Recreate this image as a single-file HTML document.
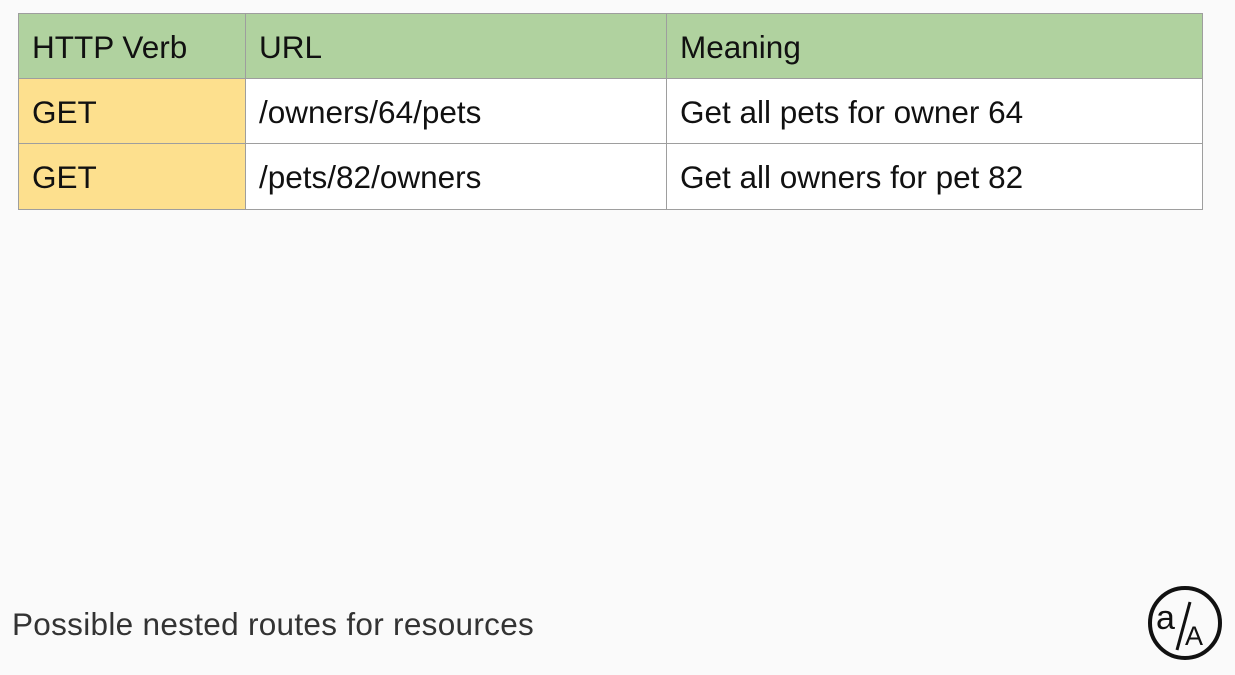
<!DOCTYPE html>
<html><head><style>
body{margin:0;width:1235px;height:675px;background:#fafafa;position:relative;overflow:hidden;font-family:"Liberation Sans",Arial,sans-serif}
table{position:absolute;left:18px;top:13px;border-collapse:collapse}
td{border:1.5px solid #9e9e9e;height:62px;padding:2px 0 0 13px;font-size:31.5px;color:#111;box-sizing:border-box}
.h td{background:#b0d29f}
.y{background:#fde08e}
.w{background:#fff}
.cap{position:absolute;left:12px;top:606px;font-size:31.5px;color:#333;letter-spacing:0.3px}
</style></head><body>
<table>
<tr class="h"><td style="width:227px;height:65px">HTTP Verb</td><td style="width:421px">URL</td><td style="width:536px">Meaning</td></tr>
<tr><td class="y" style="height:65px">GET</td><td class="w">/owners/64/pets</td><td class="w">Get all pets for owner 64</td></tr>
<tr><td class="y" style="height:66px">GET</td><td class="w">/pets/82/owners</td><td class="w">Get all owners for pet 82</td></tr>
</table>
<div class="cap">Possible nested routes for resources</div>
<svg style="position:absolute;left:1145px;top:583px" width="80" height="80" viewBox="0 0 80 80">
<circle cx="40" cy="40" r="35" fill="none" stroke="#111" stroke-width="4"/>
<line x1="45" y1="19" x2="32" y2="67" stroke="#111" stroke-width="3"/>
<text x="11" y="46" font-family="Liberation Sans,sans-serif" font-size="34" fill="#111">a</text>
<text x="40" y="62" font-family="Liberation Sans,sans-serif" font-size="27" fill="#111">A</text>
</svg>
</body></html>
